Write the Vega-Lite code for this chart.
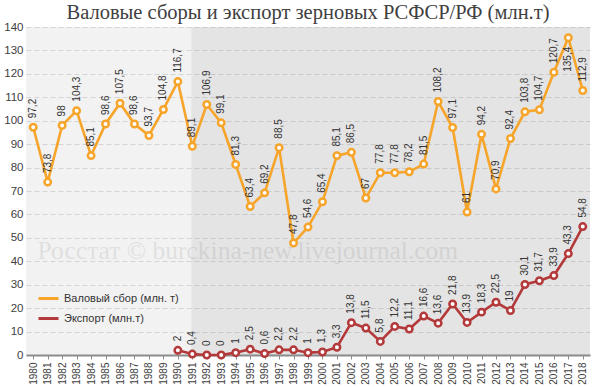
{
  "$schema": "https://vega.github.io/schema/vega-lite/v6.json",
  "width": 564,
  "height": 328,
  "autosize": {"type": "none"},
  "padding": {"left": 26, "top": 27, "right": 10, "bottom": 32},
  "background": "white",
  "title": {
    "text": "Валовые сборы и экспорт зерновых РСФСР/РФ (млн.т)",
    "font": "Liberation Serif",
    "fontSize": 20.5,
    "fontWeight": "normal",
    "color": "#404040",
    "anchor": "middle",
    "frame": "group",
    "offset": -2
  },
  "config": {
    "view": {"stroke": null, "fill": "#f2f2f2"},
    "locale": {"number": {"decimal": ",", "thousands": " ", "grouping": [3], "currency": ["", ""]}},
    "axisX": {
      "tickCount": 39, "format": "d", "title": null, "grid": false,
      "labelAngle": 270, "labelAlign": "right", "labelBaseline": "middle",
      "labelFont": "Liberation Sans", "labelFontSize": 10, "labelColor": "#404040",
      "labelPadding": 3, "labelOverlap": false, "labelFlush": false,
      "domainColor": "#8c8c8c", "domainWidth": 2,
      "tickColor": "#8c8c8c", "tickSize": 4, "tickWidth": 1
    },
    "axisY": {
      "tickCount": 14, "title": null, "grid": true, "gridDash": [5, 3], "gridColor": "#d4d4d4", "gridWidth": 1,
      "domain": false, "ticks": false,
      "labelFont": "Liberation Sans", "labelFontSize": 11.5, "labelColor": "#404040", "labelPadding": 3
    }
  },
  "data": {
    "values": [
      {"year": 1980, "series": "Валовый сбор (млн. т)", "value": 97.2},
      {"year": 1981, "series": "Валовый сбор (млн. т)", "value": 73.8},
      {"year": 1982, "series": "Валовый сбор (млн. т)", "value": 98},
      {"year": 1983, "series": "Валовый сбор (млн. т)", "value": 104.3},
      {"year": 1984, "series": "Валовый сбор (млн. т)", "value": 85.1},
      {"year": 1985, "series": "Валовый сбор (млн. т)", "value": 98.6},
      {"year": 1986, "series": "Валовый сбор (млн. т)", "value": 107.5},
      {"year": 1987, "series": "Валовый сбор (млн. т)", "value": 98.6},
      {"year": 1988, "series": "Валовый сбор (млн. т)", "value": 93.7},
      {"year": 1989, "series": "Валовый сбор (млн. т)", "value": 104.8},
      {"year": 1990, "series": "Валовый сбор (млн. т)", "value": 116.7},
      {"year": 1991, "series": "Валовый сбор (млн. т)", "value": 89.1},
      {"year": 1992, "series": "Валовый сбор (млн. т)", "value": 106.9},
      {"year": 1993, "series": "Валовый сбор (млн. т)", "value": 99.1},
      {"year": 1994, "series": "Валовый сбор (млн. т)", "value": 81.3},
      {"year": 1995, "series": "Валовый сбор (млн. т)", "value": 63.4},
      {"year": 1996, "series": "Валовый сбор (млн. т)", "value": 69.2},
      {"year": 1997, "series": "Валовый сбор (млн. т)", "value": 88.5},
      {"year": 1998, "series": "Валовый сбор (млн. т)", "value": 47.8},
      {"year": 1999, "series": "Валовый сбор (млн. т)", "value": 54.6},
      {"year": 2000, "series": "Валовый сбор (млн. т)", "value": 65.4},
      {"year": 2001, "series": "Валовый сбор (млн. т)", "value": 85.1},
      {"year": 2002, "series": "Валовый сбор (млн. т)", "value": 86.5},
      {"year": 2003, "series": "Валовый сбор (млн. т)", "value": 67},
      {"year": 2004, "series": "Валовый сбор (млн. т)", "value": 77.8},
      {"year": 2005, "series": "Валовый сбор (млн. т)", "value": 77.8},
      {"year": 2006, "series": "Валовый сбор (млн. т)", "value": 78.2},
      {"year": 2007, "series": "Валовый сбор (млн. т)", "value": 81.5},
      {"year": 2008, "series": "Валовый сбор (млн. т)", "value": 108.2},
      {"year": 2009, "series": "Валовый сбор (млн. т)", "value": 97.1},
      {"year": 2010, "series": "Валовый сбор (млн. т)", "value": 61},
      {"year": 2011, "series": "Валовый сбор (млн. т)", "value": 94.2},
      {"year": 2012, "series": "Валовый сбор (млн. т)", "value": 70.9},
      {"year": 2013, "series": "Валовый сбор (млн. т)", "value": 92.4},
      {"year": 2014, "series": "Валовый сбор (млн. т)", "value": 103.8},
      {"year": 2015, "series": "Валовый сбор (млн. т)", "value": 104.7},
      {"year": 2016, "series": "Валовый сбор (млн. т)", "value": 120.7},
      {"year": 2017, "series": "Валовый сбор (млн. т)", "value": 135.4},
      {"year": 2018, "series": "Валовый сбор (млн. т)", "value": 112.9},
      {"year": 1990, "series": "Экспорт (млн.т)", "value": 2},
      {"year": 1991, "series": "Экспорт (млн.т)", "value": 0.4},
      {"year": 1992, "series": "Экспорт (млн.т)", "value": 0},
      {"year": 1993, "series": "Экспорт (млн.т)", "value": 0},
      {"year": 1994, "series": "Экспорт (млн.т)", "value": 1},
      {"year": 1995, "series": "Экспорт (млн.т)", "value": 2.5},
      {"year": 1996, "series": "Экспорт (млн.т)", "value": 0.6},
      {"year": 1997, "series": "Экспорт (млн.т)", "value": 2.2},
      {"year": 1998, "series": "Экспорт (млн.т)", "value": 2.2},
      {"year": 1999, "series": "Экспорт (млн.т)", "value": 1},
      {"year": 2000, "series": "Экспорт (млн.т)", "value": 1.3},
      {"year": 2001, "series": "Экспорт (млн.т)", "value": 3.3},
      {"year": 2002, "series": "Экспорт (млн.т)", "value": 13.8},
      {"year": 2003, "series": "Экспорт (млн.т)", "value": 11.5},
      {"year": 2004, "series": "Экспорт (млн.т)", "value": 5.8},
      {"year": 2005, "series": "Экспорт (млн.т)", "value": 12.2},
      {"year": 2006, "series": "Экспорт (млн.т)", "value": 11.1},
      {"year": 2007, "series": "Экспорт (млн.т)", "value": 16.6},
      {"year": 2008, "series": "Экспорт (млн.т)", "value": 13.6},
      {"year": 2009, "series": "Экспорт (млн.т)", "value": 21.8},
      {"year": 2010, "series": "Экспорт (млн.т)", "value": 13.9},
      {"year": 2011, "series": "Экспорт (млн.т)", "value": 18.3},
      {"year": 2012, "series": "Экспорт (млн.т)", "value": 22.5},
      {"year": 2013, "series": "Экспорт (млн.т)", "value": 19},
      {"year": 2014, "series": "Экспорт (млн.т)", "value": 30.1},
      {"year": 2015, "series": "Экспорт (млн.т)", "value": 31.7},
      {"year": 2016, "series": "Экспорт (млн.т)", "value": 33.9},
      {"year": 2017, "series": "Экспорт (млн.т)", "value": 43.3},
      {"year": 2018, "series": "Экспорт (млн.т)", "value": 54.8}
    ]
  },
  "layer": [
    {
      "data": {"values": [{}]},
      "mark": {"type": "rect", "fill": "#000000", "opacity": 0.055},
      "encoding": {
        "x": {"datum": 1990.93, "type": "quantitative", "title": null, "scale": {"domain": [1979.5, 2018.5], "nice": false, "zero": false}},
        "x2": {"datum": 2018.5},
        "y": {"datum": 0, "type": "quantitative", "title": null, "scale": {"domain": [0, 140], "nice": false}},
        "y2": {"datum": 140}
      }
    },
    {
      "data": {"values": [{}]},
      "mark": {"type": "text", "text": "Росстат © burckina-new.livejournal.com", "font": "Liberation Serif", "fontSize": 25.5, "color": "#000000", "opacity": 0.075, "align": "left", "baseline": "middle"},
      "encoding": {
        "x": {"datum": 1980.3, "type": "quantitative", "title": null},
        "y": {"datum": 44.5, "type": "quantitative", "title": null}
      }
    },
    {
      "mark": {"type": "line", "strokeWidth": 2.6},
      "encoding": {
        "x": {"field": "year", "type": "quantitative", "title": null},
        "y": {"field": "value", "type": "quantitative", "title": null},
        "color": {
          "field": "series", "type": "nominal",
          "scale": {"domain": ["Валовый сбор (млн. т)", "Экспорт (млн.т)"], "range": ["#f6a52a", "#b3393a"]},
          "legend": {
            "orient": "none", "legendX": 11, "legendY": 260, "title": null,
            "symbolType": "stroke", "symbolSize": 400, "symbolStrokeWidth": 3,
            "labelFont": "Liberation Sans", "labelFontSize": 11, "labelColor": "#333333",
            "labelOffset": 4, "rowPadding": 2, "padding": 0
          }
        }
      }
    },
    {
      "mark": {"type": "point", "shape": "circle", "filled": false, "fill": "white", "fillOpacity": 1, "opacity": 1, "size": 42, "strokeWidth": 2.5},
      "encoding": {
        "x": {"field": "year", "type": "quantitative", "title": null},
        "y": {"field": "value", "type": "quantitative", "title": null},
        "stroke": {
          "field": "series", "type": "nominal",
          "scale": {"domain": ["Валовый сбор (млн. т)", "Экспорт (млн.т)"], "range": ["#f6a52a", "#b3393a"]},
          "legend": null
        }
      }
    },
    {
      "transform": [{"filter": "!(datum.series == 'Валовый сбор (млн. т)' && datum.year == 2017)"}],
      "mark": {"type": "text", "angle": 270, "align": "left", "baseline": "middle", "dx": 9, "font": "Liberation Sans", "fontSize": 10, "color": "#333333"},
      "encoding": {
        "x": {"field": "year", "type": "quantitative", "title": null},
        "y": {"field": "value", "type": "quantitative", "title": null},
        "text": {"field": "value", "type": "quantitative", "format": "~g"}
      }
    },
    {
      "transform": [{"filter": "datum.series == 'Валовый сбор (млн. т)' && datum.year == 2017"}],
      "mark": {"type": "text", "angle": 270, "align": "right", "baseline": "middle", "dx": -9, "font": "Liberation Sans", "fontSize": 10, "color": "#333333"},
      "encoding": {
        "x": {"field": "year", "type": "quantitative", "title": null},
        "y": {"field": "value", "type": "quantitative", "title": null},
        "text": {"field": "value", "type": "quantitative", "format": "~g"}
      }
    }
  ]
}
